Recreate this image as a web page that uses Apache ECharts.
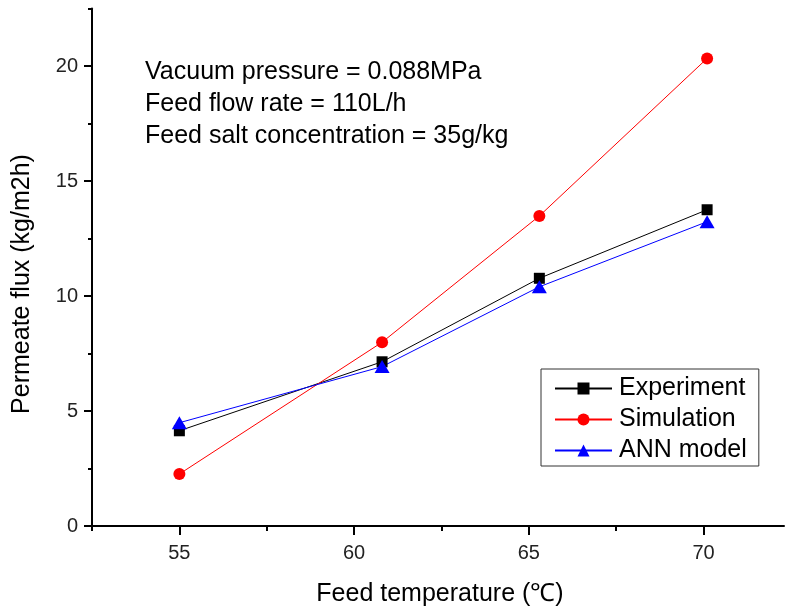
<!DOCTYPE html>
<html>
<head>
<meta charset="utf-8">
<script src="https://cdn.jsdelivr.net/npm/echarts@6/dist/echarts.min.js"></script>
<style>
html,body{margin:0;padding:0;background:#fff;}
#chart{width:786px;height:612px;}
</style>
</head>
<body>
<div id="chart"></div>
<script>
// Data
var temperatures = [55, 60.8, 65.3, 70.1];
var experiment = [4.14, 7.14, 10.77, 13.75];
var simulation = [2.26, 7.99, 13.48, 20.33];
var annModel = [4.49, 6.93, 10.4, 13.23];
var seriesNames = ['Experiment', 'Simulation', 'ANN model'];
var xMajorTicks = [55, 60, 65, 70];
var xMinorTicks = [52.5, 57.5, 62.5, 67.5, 72.5];
var yMajorTicks = [0, 5, 10, 15, 20];
var yMinorTicks = [2.5, 7.5, 12.5, 17.5, 22.5];
var annotationLines = ['Vacuum pressure = 0.088MPa', 'Feed flow rate = 110L/h', 'Feed salt concentration = 35g/kg'];
var xName = 'Feed temperature (\u2103)';
var yName = 'Permeate flux (kg/m2h)';

function pairs(xs, ys) { return xs.map(function (x, i) { return [x, ys[i]]; }); }

var FONT = '"Liberation Sans", Arial, sans-serif';
var chart = echarts.init(document.getElementById('chart'));
var axisLine = { show: true, onZero: false, lineStyle: { color: '#000', width: 2 } };

chart.setOption({
  backgroundColor: '#fff',
  animation: false,
  grid: { left: 92, right: 2, top: 8.5, bottom: 86 },
  xAxis: [{
    type: 'value', min: 52.5, max: 72.3, position: 'bottom',
    axisLine: axisLine,
    axisTick: { show: true, customValues: xMajorTicks, length: 9, lineStyle: { color: '#000', width: 2 } },
    axisLabel: { customValues: xMajorTicks, margin: 17, color: '#222', fontSize: 20, fontFamily: FONT },
    splitLine: { show: false }
  }, {
    type: 'value', min: 52.5, max: 72.3, position: 'bottom',
    axisLine: { show: false },
    axisTick: { show: true, customValues: xMinorTicks, length: 5, lineStyle: { color: '#000', width: 2 } },
    axisLabel: { show: false },
    splitLine: { show: false }
  }],
  yAxis: [{
    type: 'value', min: 0, max: 22.5, position: 'left',
    axisLine: axisLine,
    axisTick: { show: true, customValues: yMajorTicks, length: 8, lineStyle: { color: '#000', width: 2 } },
    axisLabel: { customValues: yMajorTicks, margin: 14, color: '#222', fontSize: 20, fontFamily: FONT },
    splitLine: { show: false }
  }, {
    type: 'value', min: 0, max: 22.5, position: 'left',
    axisLine: { show: false },
    axisTick: { show: true, customValues: yMinorTicks, length: 4, lineStyle: { color: '#000', width: 2 } },
    axisLabel: { show: false },
    splitLine: { show: false }
  }],
  legend: {
    orient: 'vertical', left: 541, top: 369,
    data: seriesNames,
    itemWidth: 57, itemHeight: 15, itemGap: 6,
    padding: [7, 12, 3, 13],
    borderColor: '#333', borderWidth: 1, backgroundColor: '#fff', borderRadius: 0,
    textStyle: { fontSize: 25, fontFamily: FONT, color: '#000', padding: [0, 0, 0, 2] }
  },
  graphic: [{
    type: 'text', left: 145, top: 56,
    style: { text: annotationLines.join('\n'), font: '25px ' + FONT, fill: '#000', lineHeight: 32 }
  }, {
    type: 'text', x: 22, y: 284, rotation: Math.PI / 2,
    style: { text: yName, font: '25px ' + FONT, fill: '#000', align: 'center', verticalAlign: 'middle' }
  }, {
    type: 'text', x: 440, y: 594,
    style: { text: xName, font: '25px ' + FONT, fill: '#000', align: 'center', verticalAlign: 'middle' }
  }],
  series: [{
    name: seriesNames[0], type: 'line', data: pairs(temperatures, experiment),
    symbol: 'rect', symbolSize: 11, color: '#000',
    lineStyle: { width: 1, color: '#000' }, itemStyle: { color: '#000' }
  }, {
    name: seriesNames[1], type: 'line', data: pairs(temperatures, simulation),
    symbol: 'circle', symbolSize: 12, color: '#ff0000',
    lineStyle: { width: 1, color: '#ff0000' }, itemStyle: { color: '#ff0000' }
  }, {
    name: seriesNames[2], type: 'line', data: pairs(temperatures, annModel),
    symbol: 'triangle', symbolSize: [15, 13], color: '#0000ff',
    lineStyle: { width: 1, color: '#0000ff' }, itemStyle: { color: '#0000ff' }
  }]
});
</script>
</body>
</html>
